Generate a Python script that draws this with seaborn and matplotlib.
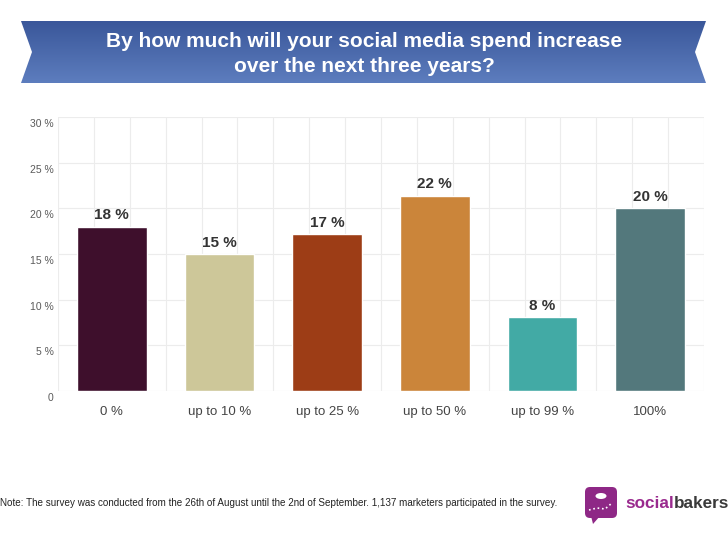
#Grafica: aumento del gasto en redes sociales

import numpy as np
import pandas as pd
import matplotlib
matplotlib.use('Agg')
import matplotlib.pyplot as plt
import matplotlib.transforms as mtransforms
import seaborn as sns
from matplotlib.patches import Polygon, FancyBboxPatch, Ellipse
from matplotlib.ticker import FixedLocator
from matplotlib.colors import LinearSegmentedColormap

categorias = ['0 %', 'up to 10 %', 'up to 25 %', 'up to 50 %', 'up to 99 %', '100%']
valores = [18.0, 15.0, 17.2, 21.4, 8.1, 20.0]
etiquetas = ['18 %', '15 %', '17 %', '22 %', '8 %', '20 %']
colores = ['#3e0f2c', '#cdc799', '#9d3d16', '#cb853a', '#42aaa5', '#53787c']
ticks_y = [0, 5, 10, 15, 20, 25, 30]
etiquetas_y = ['0', '5 %', '10 %', '15 %', '20 %', '25 %', '30 %']

titulo = 'By how much will your social media spend increase\nover the next three years?'
nota = ('Note: The survey was conducted from the 26th of August until the 2nd of September. '
        '1,137 marketers participated in the survey.')

sns.set_style('white')
plt.rcParams['font.family'] = ['Liberation Sans', 'DejaVu Sans']

W, H = 728, 546
fig = plt.figure(figsize=(W / 100, H / 100), dpi=100)


def caja(x0, y0, x1, y1):   #pixeles -> fraccion de figura
    return [x0 / W, 1 - y1 / H, (x1 - x0) / W, (y1 - y0) / H]


# ---- grafico de barras ----
ax = fig.add_axes(caja(58, 117, 704, 391))
df = pd.DataFrame({'cat': categorias, 'val': valores})
sns.barplot(data=df, x='cat', y='val', hue='cat', palette=colores, legend=False,
            width=0.65, saturation=1, ax=ax)

for i, (v, t) in enumerate(zip(valores, etiquetas)):
    ax.annotate(t, (i, v), xytext=(0, 3), textcoords='offset points', ha='center', va='bottom',
                fontsize=11, fontweight='bold', color='#333333')

ax.set_xlim(-0.5, len(categorias) - 0.5)
ax.set_ylim(0, 30)
ax.yaxis.set_major_locator(FixedLocator(ticks_y))
ax.set_yticklabels(etiquetas_y)
ax.xaxis.set_minor_locator(FixedLocator(np.arange(-0.5, len(categorias) - 0.49, 1 / 3)))
ax.grid(axis='x', which='minor', color='#ececec', lw=0.8)
ax.grid(axis='y', which='major', color='#ececec', lw=0.8)
ax.set_axisbelow(True)
ax.set_xlabel('')
ax.set_ylabel('')
sns.despine(ax=ax, left=True, bottom=True)
ax.tick_params(axis='y', length=0, pad=3, labelsize=7.5, labelcolor='#5a5a5a')
ax.tick_params(axis='x', which='both', length=0, pad=10.5, labelsize=9.5, labelcolor='#444444')

desplazar = mtransforms.ScaledTranslation(0, -6 / 100, fig.dpi_scale_trans)   #etiquetas bajo la linea
for lbl in ax.get_yticklabels():
    lbl.set_transform(lbl.get_transform() + desplazar)

# ---- cinta del titulo ----
bax = fig.add_axes(caja(21, 21, 706, 83))
bax.set_xlim(21, 706)
bax.set_ylim(83, 21)
bax.axis('off')
degradado = LinearSegmentedColormap.from_list('cinta', ['#3a579a', '#5d7dbe'])
im = bax.imshow(np.linspace(0, 1, 100).reshape(-1, 1), extent=(21, 706, 83, 21),
                aspect='auto', cmap=degradado)
cinta = Polygon([(21, 21), (706, 21), (695, 52), (706, 83), (21, 83), (32, 52)],
                closed=True, facecolor='none', edgecolor='none', transform=bax.transData)
bax.add_patch(cinta)
im.set_clip_path(cinta)
fig.text(364 / W, 1 - 54 / H, titulo, ha='center', va='center', color='white',
         fontsize=15, fontweight='bold', linespacing=1.38)

# ---- nota al pie ----
fig.text(0, 1 - 503 / H, nota, ha='left', va='center', fontsize=7.1, color='#222222')

# ---- logo ----
lax = fig.add_axes(caja(580, 482, 728, 528))
lax.set_xlim(580, 728)
lax.set_ylim(528, 482)
lax.axis('off')
lax.add_patch(FancyBboxPatch((585, 487), 32, 31, boxstyle='round,pad=0,rounding_size=5',
                             fc='#8e2886', ec='none'))
lax.add_patch(Polygon([(591, 516), (600, 516), (593, 524)], closed=True, fc='#8e2886', ec='none'))
lax.add_patch(Ellipse((601, 496), 11, 6, fc='white', ec='none'))
lax.plot([589, 597, 605, 612], [510, 508, 509, 503], color='white', lw=1.2, ls=':')
t1 = lax.text(625, 503, 'social', ha='left', va='center', fontsize=12.3, fontweight='bold',
              color='#9a2a8e')
lax.annotate('bakers', xy=(1, 0.5), xycoords=t1, ha='left', va='center', fontsize=12.3,
             fontweight='bold', color='#3a3a3a')

plt.savefig('out.png', dpi=100)
